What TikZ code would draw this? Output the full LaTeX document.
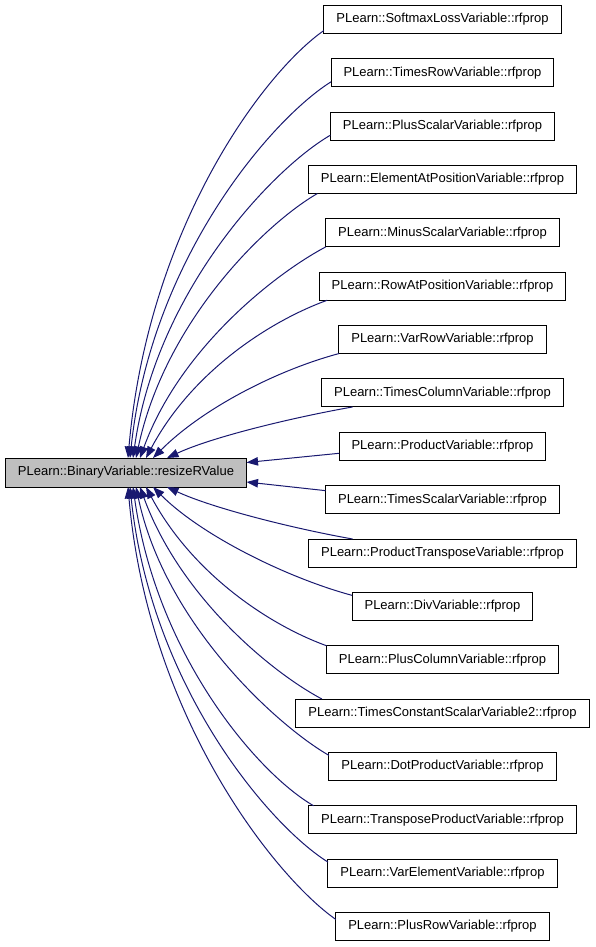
\documentclass[tikz,border=0pt]{standalone}
\usepackage{fontspec}
\setmainfont{Liberation Sans}
\usepackage{xcolor}
\usepackage{tikz}
\usetikzlibrary{positioning,arrows.meta}
\definecolor{edgeblue}{HTML}{191970}
\definecolor{rootgray}{HTML}{BFBFBF}
\tikzset{
  fn/.style={rectangle, draw=black, fill=white, line width=1pt, outer sep=0pt,
             minimum height=28pt, inner xsep=12.5pt, font=\fontsize{13}{15}\selectfont},
  root/.style={fn, fill=rootgray, minimum height=29pt},
  arr/.style={-{Triangle[length=11.5pt,width=8.5pt]}, line width=1pt, draw=edgeblue},
}

\begin{document}
\begin{tikzpicture}[x=1pt, y=1pt, node distance=25.35pt]
    \useasboundingbox (0,0) rectangle (595,-947);
    \node[root] (res) at (126,-472.5) {PLearn::BinaryVariable::resizeRValue};
    \node[fn] (softmax) at (442.5,-19.5) {PLearn::SoftmaxLossVariable::rfprop};
    \node[fn, below=of softmax] (timesrow) {PLearn::TimesRowVariable::rfprop};
    \node[fn, below=of timesrow] (plusscalar) {PLearn::PlusScalarVariable::rfprop};
    \node[fn, below=of plusscalar] (elematpos) {PLearn::ElementAtPositionVariable::rfprop};
    \node[fn, below=of elematpos] (minusscalar) {PLearn::MinusScalarVariable::rfprop};
    \node[fn, below=of minusscalar] (rowatpos) {PLearn::RowAtPositionVariable::rfprop};
    \node[fn, below=of rowatpos] (varrow) {PLearn::VarRowVariable::rfprop};
    \node[fn, below=of varrow] (timescol) {PLearn::TimesColumnVariable::rfprop};
    \node[fn, below=of timescol] (product) {PLearn::ProductVariable::rfprop};
    \node[fn, below=of product] (timesscalar) {PLearn::TimesScalarVariable::rfprop};
    \node[fn, below=of timesscalar] (prodtrans) {PLearn::ProductTransposeVariable::rfprop};
    \node[fn, below=of prodtrans] (div) {PLearn::DivVariable::rfprop};
    \node[fn, below=of div] (pluscol) {PLearn::PlusColumnVariable::rfprop};
    \node[fn, below=of pluscol] (timesconst) {PLearn::TimesConstantScalarVariable2::rfprop};
    \node[fn, below=of timesconst] (dotprod) {PLearn::DotProductVariable::rfprop};
    \node[fn, below=of dotprod] (transprod) {PLearn::TransposeProductVariable::rfprop};
    \node[fn, below=of transprod] (varelem) {PLearn::VarElementVariable::rfprop};
    \node[fn, below=of varelem] (plusrow) {PLearn::PlusRowVariable::rfprop};
    \draw[arr] ([yshift=3pt]softmax.south west) .. controls +(215:75) and +(85:230) .. ([xshift=2pt]res.north);
    \draw[arr] ([yshift=5pt]timesrow.south west) .. controls +(212:70) and +(84:200) .. ([xshift=4pt]res.north);
    \draw[arr] ([yshift=5pt]plusscalar.south west) .. controls +(210:65) and +(82:170) .. ([xshift=7pt]res.north);
    \draw[arr] ([xshift=9pt]elematpos.south west) .. controls +(210:60) and +(78:140) .. ([xshift=10pt]res.north);
    \draw[arr] (minusscalar.south west) .. controls +(208:60) and +(70:115) .. ([xshift=14pt]res.north);
    \draw[arr] ([xshift=8pt]rowatpos.south west) .. controls +(200:65) and +(62:95) .. ([xshift=20pt]res.north);
    \draw[arr] (varrow.south west) .. controls +(195:65) and +(45:70) .. ([xshift=27pt]res.north);
    \draw[arr] ([xshift=31pt]timescol.south west) .. controls +(190:60) and +(25:50) .. ([xshift=41pt]res.north);
    \draw[arr] ([yshift=7pt]product.south west) -- ([yshift=10pt]res.east);
    \draw[arr] ([yshift=-5pt]timesscalar.north west) -- ([yshift=-9.5pt]res.east);
    \draw[arr] ([xshift=44pt]prodtrans.north west) .. controls +(170:60) and +(-25:50) .. ([xshift=41pt]res.south);
    \draw[arr] ([yshift=-3pt]div.north west) .. controls +(165:65) and +(-45:70) .. ([xshift=27pt]res.south);
    \draw[arr] (pluscol.north west) .. controls +(160:65) and +(-62:95) .. ([xshift=20pt]res.south);
    \draw[arr] ([xshift=26pt]timesconst.north west) .. controls +(152:60) and +(-70:115) .. ([xshift=14pt]res.south);
    \draw[arr] ([yshift=-3pt]dotprod.north west) .. controls +(150:60) and +(-78:140) .. ([xshift=10pt]res.south);
    \draw[arr] ([xshift=5pt]transprod.north west) .. controls +(150:65) and +(-82:170) .. ([xshift=7pt]res.south);
    \draw[arr] ([yshift=-3pt]varelem.north west) .. controls +(148:70) and +(-84:200) .. ([xshift=4pt]res.south);
    \draw[arr] ([yshift=-7pt]plusrow.north west) .. controls +(145:75) and +(-85:230) .. ([xshift=2pt]res.south);
\end{tikzpicture}
\end{document}
